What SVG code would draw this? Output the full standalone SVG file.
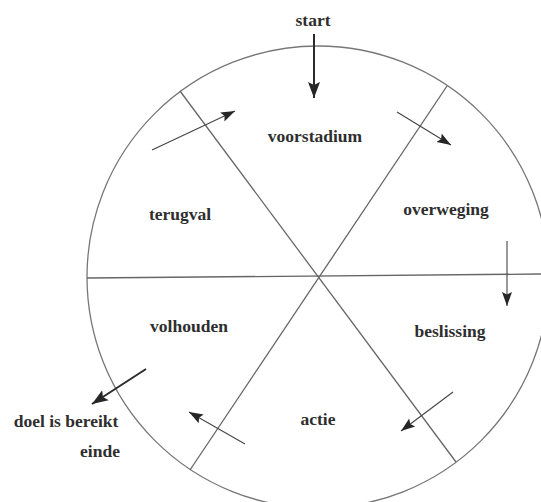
<svg xmlns="http://www.w3.org/2000/svg" width="541" height="502" viewBox="0 0 541 502">
  <defs>
    <marker id="head" markerUnits="userSpaceOnUse" markerWidth="16" markerHeight="12" refX="14" refY="6" orient="auto">
      <path d="M0,1 L14,6 L0,11 L2.5,6 Z" fill="#262626"/>
    </marker>
    <marker id="headBig" markerUnits="userSpaceOnUse" markerWidth="18" markerHeight="14" refX="16" refY="7" orient="auto">
      <path d="M0,1 L16,7 L0,13 L3,7 Z" fill="#262626"/>
    </marker>
  </defs>
  <style>
    .lbl { font-family: "Liberation Serif", "Times New Roman", serif; font-weight: bold; font-size: 17.5px; fill: #2e2e2e; text-anchor: middle; }
    .frame { fill: none; stroke: #777; stroke-width: 1.3; }
    .div { stroke: #666; stroke-width: 1.3; fill: none; }
    .arr { stroke: #444; stroke-width: 1.1; fill: none; marker-end: url(#head); }
    .arrThick { stroke: #2b2b2b; stroke-width: 2; fill: none; marker-end: url(#headBig); }
  </style>
  <rect width="541" height="502" fill="#ffffff"/>

  <g id="wheel">
    <circle class="frame" cx="318" cy="277" r="231"/>
    <line class="div" x1="87" y1="278" x2="541" y2="274"/>
    <line class="div" x1="180" y1="91" x2="456" y2="462"/>
    <line class="div" x1="447" y1="86" x2="190" y2="470"/>
  </g>

  <g id="connectors">
    <line class="arrThick" x1="314" y1="34" x2="314" y2="98"/>
    <line class="arr" x1="152" y1="150" x2="235" y2="111"/>
    <line class="arr" x1="397" y1="112" x2="451" y2="145"/>
    <line class="arr" x1="507" y1="241" x2="507" y2="306"/>
    <line class="arr" x1="453" y1="392" x2="401" y2="431"/>
    <line class="arr" x1="245" y1="444" x2="189" y2="412"/>
    <line class="arrThick" x1="146" y1="369" x2="92" y2="404"/>
  </g>

  <g id="start"><text class="lbl" x="313" y="26">start</text></g>
  <g id="voorstadium"><text class="lbl" x="315" y="142">voorstadium</text></g>
  <g id="overweging"><text class="lbl" x="446" y="215">overweging</text></g>
  <g id="beslissing"><text class="lbl" x="450" y="337">beslissing</text></g>
  <g id="actie"><text class="lbl" x="318" y="425">actie</text></g>
  <g id="volhouden"><text class="lbl" x="189" y="332">volhouden</text></g>
  <g id="terugval"><text class="lbl" x="180" y="220">terugval</text></g>
  <g id="doel"><text class="lbl" x="66" y="427">doel is bereikt</text></g>
  <g id="einde"><text class="lbl" x="100" y="457">einde</text></g>
</svg>
